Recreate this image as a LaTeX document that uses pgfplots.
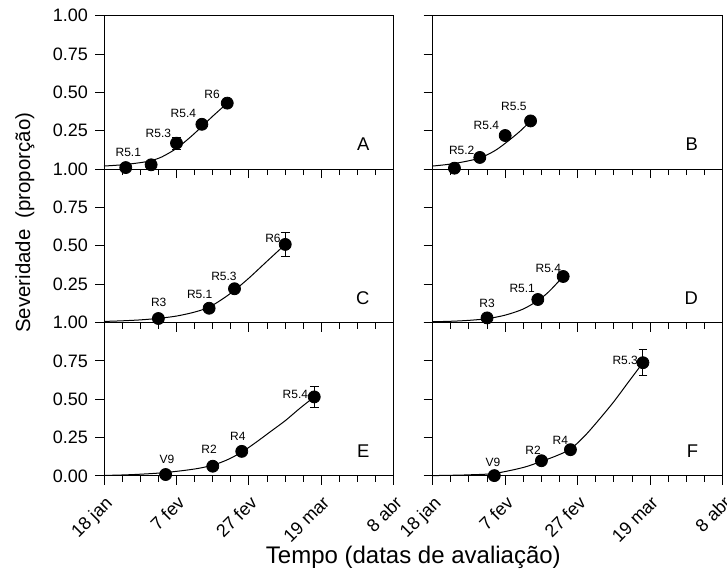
\documentclass[border=0pt]{standalone}
\usepackage{fontspec}
\setmainfont{Liberation Sans}
\usepackage{pgfplots}
\pgfplotsset{compat=1.18}
\usepgfplotslibrary{groupplots}
\usetikzlibrary{calc}

\newcommand{\tickfont}{\fontsize{9}{10}\selectfont}
\newcommand{\stfont}{\fontsize{6}{7}\selectfont}
\newcommand{\letfont}{\fontsize{9.2}{11}\selectfont}
\newcommand{\labfont}{\fontsize{12}{14}\selectfont}
\newcommand{\ylabfont}{\fontsize{10.2}{12}\selectfont}

\tikzset{
  stage/.style={font=\stfont, inner sep=0pt},
  panel/.style={font=\letfont, anchor=east, inner sep=0pt},
}
\pgfplotsset{
  fitline/.style={black, line width=0.5pt, smooth, no markers},
  obs/.style={only marks, mark=*, mark size=3pt, black,
    error bars/.cd, y dir=both, y explicit,
    error bar style={line width=0.5pt, black},
    error mark options={rotate=90, mark size=2.2pt, line width=0.5pt, black}},
}

\begin{document}
\begin{tikzpicture}
\begin{groupplot}[
  group style={group size=2 by 3, horizontal sep=19.35pt, vertical sep=0pt},
  scale only axis, width=145pt, height=76.7pt,
  xmin=0, xmax=80, ymin=0, ymax=1,
  xtick={0,20,40,60,80}, minor x tick num=3,
  ytick={0,0.25,0.5,0.75,1},
  xticklabels={}, yticklabels={},
  xticklabel style={rotate=45, anchor=north east, font=\tickfont},
  yticklabel style={font=\tickfont},
  tick align=outside, xtick pos=bottom, ytick pos=left,
  major tick length=4.5pt, minor tick length=3pt,
  every tick/.style={black, line width=0.5pt},
  axis line style={line width=0.5pt},
  clip=false,
]
% A
\nextgroupplot[yticklabels={,0.25,0.50,0.75,1.00}]
\addplot[fitline] coordinates {(0,0.02) (5,0.028) (10,0.042) (13,0.055) (16,0.08) (20,0.135) (24,0.212) (27,0.278) (30,0.345) (34,0.43)};
\addplot[obs] coordinates {(6,0.01) +- (0,0) (13,0.028) +- (0,0) (20,0.169) +- (0,0.04) (27,0.292) +- (0,0) (34,0.43) +- (0,0)};
\node[stage] at (axis cs:6.7,0.106) {R5.1};
\node[stage] at (axis cs:15,0.235) {R5.3};
\node[stage] at (axis cs:21.9,0.363) {R5.4};
\node[stage] at (axis cs:29.8,0.487) {R6};
\node[panel] at (axis cs:73.3,0.16) {A};
% B
\nextgroupplot
\addplot[fitline] coordinates {(0,0.02) (4,0.03) (8,0.045) (13,0.072) (17,0.118) (20,0.168) (24,0.245) (27,0.314)};
\addplot[obs] coordinates {(6,0.006) +- (0,0) (13,0.076) +- (0,0) (20,0.219) +- (0,0) (27,0.314) +- (0,0)};
\node[stage] at (axis cs:8,0.125) {R5.2};
\node[stage] at (axis cs:14.8,0.283) {R5.4};
\node[stage] at (axis cs:22.4,0.406) {R5.5};
\node[panel] at (axis cs:73.3,0.16) {B};
% C
\nextgroupplot[yticklabels={,0.25,0.50,0.75,1.00}]
\addplot[fitline] coordinates {(0,0.007) (5,0.011) (10,0.017) (15,0.027) (20,0.042) (25,0.068) (29,0.1) (33,0.158) (36,0.21) (40,0.29) (45,0.4) (50,0.509)};
\addplot[obs] coordinates {(15,0.026) +- (0,0) (29,0.093) +- (0,0) (36,0.22) +- (0,0) (50,0.509) +- (0,0.078)};
\node[stage] at (axis cs:15.1,0.132) {R3};
\node[stage] at (axis cs:26.4,0.186) {R5.1};
\node[stage] at (axis cs:33.1,0.299) {R5.3};
\node[stage] at (axis cs:46.6,0.548) {R6};
\node[panel] at (axis cs:73.3,0.16) {C};
% D
\nextgroupplot
\addplot[fitline] coordinates {(0,0.005) (5,0.008) (10,0.014) (15,0.025) (20,0.048) (25,0.088) (29,0.143) (32,0.2) (36,0.3)};
\addplot[obs] coordinates {(15,0.03) +- (0,0) (29,0.15) +- (0,0) (36,0.3) +- (0,0)};
\node[stage] at (axis cs:15,0.126) {R3};
\node[stage] at (axis cs:24.7,0.219) {R5.1};
\node[stage] at (axis cs:31.9,0.354) {R5.4};
\node[panel] at (axis cs:73.3,0.16) {D};
% E
\nextgroupplot[yticklabels={0.00,0.25,0.50,0.75,1.00},
  xticklabels={18 jan,7 fev,27 fev,19 mar,8 abr}]
\addplot[fitline] coordinates {(0,0.003) (5,0.006) (10,0.011) (17,0.022) (25,0.045) (30,0.07) (34,0.105) (38,0.155) (42,0.22) (46,0.29) (50,0.36) (54,0.44) (58,0.515)};
\addplot[obs] coordinates {(17,0.009) +- (0,0) (30,0.063) +- (0,0) (38,0.16) +- (0,0) (58,0.515) +- (0,0.068)};
\node[stage] at (axis cs:17.4,0.108) {V9};
\node[stage] at (axis cs:29,0.175) {R2};
\node[stage] at (axis cs:36.9,0.255) {R4};
\node[stage] at (axis cs:52.8,0.532) {R5.4};
\node[panel] at (axis cs:73.3,0.16) {E};
% F
\nextgroupplot[xticklabels={18 jan,7 fev,27 fev,19 mar,8 abr}]
\addplot[fitline] coordinates {(0,0.002) (5,0.004) (10,0.007) (17,0.016) (25,0.055) (30,0.095) (34,0.13) (38,0.175) (42,0.262) (46,0.37) (50,0.485) (54,0.612) (58,0.738)};
\addplot[obs] coordinates {(17,0.002) +- (0,0) (30,0.099) +- (0,0) (38,0.171) +- (0,0) (58,0.738) +- (0,0.083)};
\node[stage] at (axis cs:16.6,0.088) {V9};
\node[stage] at (axis cs:27.7,0.164) {R2};
\node[stage] at (axis cs:35.2,0.229) {R4};
\node[stage] at (axis cs:53.1,0.753) {R5.3};
\node[panel] at (axis cs:73.3,0.16) {F};
\end{groupplot}
\node[rotate=90, font=\ylabfont] at ([xshift=-39.5pt, yshift=11.5pt]group c1r2.west) {Severidade\ \ (proporção)};
\node[anchor=base, font=\labfont] at ($($(group c1r3.south west)!0.5!(group c2r3.south east)$)+(0,-43.65pt)$) {Tempo (datas de avaliação)};
\pgfresetboundingbox
\path[use as bounding box] (group c1r1.north west) ++(-52pt,7.85pt) rectangle ++(363.5pt,-286.5pt);
\end{tikzpicture}
\end{document}
